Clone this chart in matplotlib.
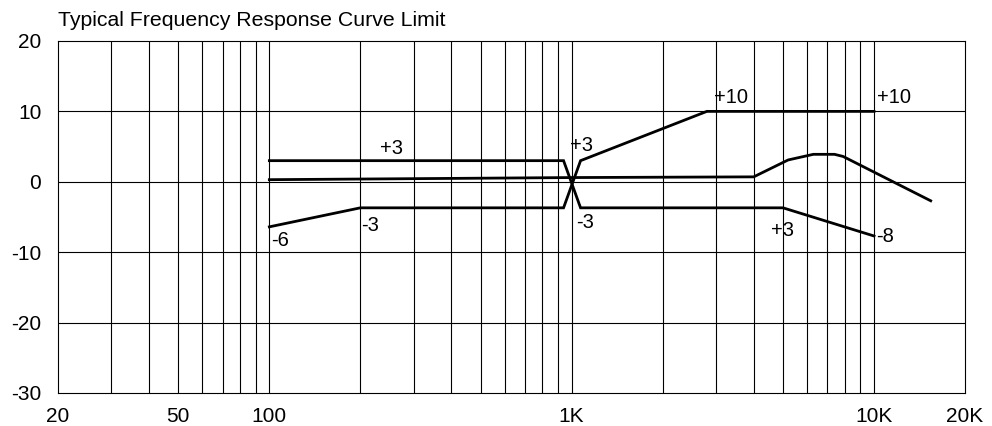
#!/usr/bin/env python3
"""Typical frequency response curve with upper/lower tolerance limits."""

import matplotlib.pyplot as plt
from matplotlib.ticker import FixedLocator, NullLocator

# tolerance line running +3 at the low end, crossing near 1K, then down to -8
limit_a_freq = [100, 940, 1070, 5000, 10000]
limit_a_db = [3.0, 3.0, -3.7, -3.7, -7.7]

# tolerance line starting at -6, crossing near 1K, then up to +10
limit_b_freq = [100, 200, 940, 1070, 2800, 10000]
limit_b_db = [-6.4, -3.7, -3.7, 3.0, 10.0, 10.0]

# typical response
resp_freq = [100, 1000, 4000, 5200, 6300, 7400, 7900, 15400]
resp_db = [0.3, 0.6, 0.7, 3.1, 3.9, 3.9, 3.6, -2.7]

# annotations (freq, dB, text)
label_freq = [101, 201, 232, 985, 1035, 2960, 10250, 4570, 10150]
label_db = [-8.35, -6.2, 4.75, 5.15, -5.75, 11.95, 11.95, -6.85, -7.8]
label_text = ["-6", "-3", "+3", "+3", "-3", "+10", "+10", "+3", "-8"]

x_ticks = [20, 50, 100, 1000, 10000, 20000]
x_tick_labels = ["20", "50", "100", "1K", "10K", "20K"]
y_ticks = [-30, -20, -10, 0, 10, 20]

plt.rcParams["font.family"] = ["Liberation Sans", "DejaVu Sans"]
plt.rcParams["axes.unicode_minus"] = False
FS = 15

fig = plt.figure(figsize=(9.92, 4.26), dpi=100)
ax = fig.add_axes([0.0585, 0.0775, 0.9143, 0.8263])
ax.set_xscale("log")
ax.set_xlim(20, 20000)
ax.set_ylim(-30, 20)

# grid: every 1-2-...-9 step per decade
grid_freqs = [m * 10 ** d for d in range(1, 5) for m in range(1, 10)]
grid_freqs = [f for f in grid_freqs if 20 < f < 20000]
for f in grid_freqs:
    ax.axvline(f, color="black", lw=0.8, zorder=1)
for y in y_ticks[1:-1]:
    ax.axhline(y, color="black", lw=0.8, zorder=1)

ax.plot(limit_a_freq, limit_a_db, color="black", lw=2.0, solid_joinstyle="miter", zorder=3)
ax.plot(limit_b_freq, limit_b_db, color="black", lw=2.0, solid_joinstyle="miter", zorder=3)
ax.plot(resp_freq, resp_db, color="black", lw=2.0, zorder=3)

for f, d, t in zip(label_freq, label_db, label_text):
    ax.text(f, d, t, ha="left", va="center", fontsize=14.5, zorder=4)

ax.xaxis.set_major_locator(FixedLocator(x_ticks))
ax.xaxis.set_minor_locator(NullLocator())
ax.set_xticklabels(x_tick_labels)
ax.set_yticks(y_ticks)
ax.tick_params(axis="both", length=0, labelsize=FS)
ax.tick_params(axis="x", pad=10)
ax.tick_params(axis="y", pad=12)
for s in ax.spines.values():
    s.set_linewidth(0.8)

fig.text(58 / 992, 1 - 25.7 / 426, "Typical Frequency Response Curve Limit",
         ha="left", va="baseline", fontsize=15.3)

fig.savefig("out.png", dpi=100)
